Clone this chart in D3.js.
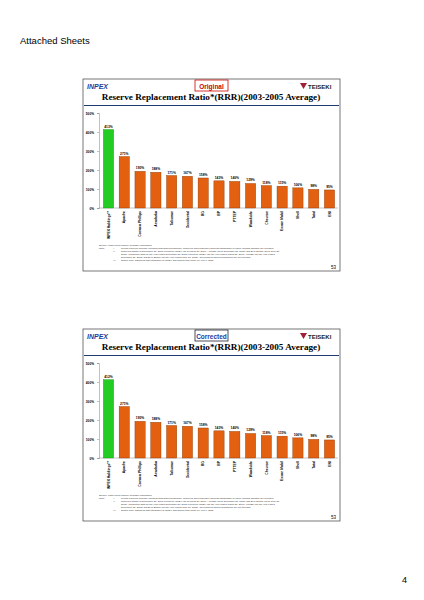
<!DOCTYPE html>
<html><head><meta charset="utf-8">
<script src="https://cdn.jsdelivr.net/npm/d3@7"></script>
<style>body{margin:0;background:#fff}svg{display:block}</style>
</head><body>
<svg id="page" width="424" height="600"></svg>
<script>
const companies = ["INPEX Holdings**", "Apache", "Conoco Phillips", "Anadarko", "Talisman", "Occidental", "BG", "BP", "PTTEP", "Woodside", "Chevron", "Exxon Mobil", "Shell", "Total", "ENI"];
const rrrOriginal = [413, 271, 193, 188, 171, 167, 158, 143, 140, 129, 118, 115, 106, 98, 95];
const rrrCorrected = [412, 271, 193, 188, 171, 167, 158, 143, 140, 129, 118, 115, 106, 98, 95];
const yTicks = [0, 100, 200, 300, 400, 500];
const notes = [
  ["Source:", "", "Most recent publicly available information"],
  ["Note:", "*", "Period reserves increase including acquisition/Production. Reserves and production amounts attributable to equity method affiliates are included"],
  ["", "**", "Reserves shown at December 31, 2005 except for INPEX (as of March 31, 2006 ), PTTEP (as of December 31, 2005) and BHP Billiton (as of June 30,"],
  ["", "", "2005).  Production data for the year ended December 31, 2005 except for INPEX (for the year ended March 31, 2006), PTTEP (for the year ended"],
  ["", "", "December 31, 2005) and BHP Billiton (for the year ended June 30, 2005).  Government-owned companies are not included"],
  ["", "***", "Simple sum, assuming that integration of INPEX and Teiseki took place on April 1, 2005"]
];

const svg = d3.select("#page");
svg.append("text").attr("x", 20).attr("y", 44).attr("font-family", "Liberation Sans, Arial").attr("font-size", 9.5).text("Attached Sheets");
svg.append("text").attr("x", 402).attr("y", 583).attr("font-family", "Liberation Sans, Arial").attr("font-size", 9).text("4");

function slide(dy, tag, values) {
  const g = svg.append("g").attr("transform", `translate(0,${dy})`);
  g.append("rect").attr("x", 83).attr("y", 79).attr("width", 257).attr("height", 192)
    .attr("fill", "#fff").attr("stroke", "#555").attr("stroke-width", 0.8);
  g.append("text").attr("x", 87).attr("y", 89).attr("font-family", "Liberation Sans, Arial")
    .attr("font-size", 7).attr("font-weight", "bold").attr("font-style", "italic").attr("fill", "#1f3c99").text("INPEX");
  const isOrig = tag === "Original";
  g.append("rect").attr("x", 195).attr("y", 80).attr("width", 33).attr("height", 11)
    .attr("fill", "#fff").attr("stroke", isOrig ? "#c00" : "#223").attr("stroke-width", 0.8);
  g.append("text").attr("x", 211.5).attr("y", 88.5).attr("text-anchor", "middle").attr("font-family", "Liberation Sans, Arial")
    .attr("font-size", 6.5).attr("font-weight", "bold").attr("fill", isOrig ? "#c00" : "#1f3c99").text(tag);
  g.append("path").attr("d", "M300,83 L307,83 L303.5,89 Z").attr("fill", "#a0203a");
  g.append("text").attr("x", 308).attr("y", 88.5).attr("font-family", "Liberation Sans, Arial")
    .attr("font-size", 6).attr("font-weight", "bold").attr("fill", "#222").text("TEISEKI");
  g.append("text").attr("x", 211).attr("y", 100).attr("text-anchor", "middle").attr("font-family", "Liberation Serif, Times New Roman")
    .attr("font-size", 9.2).attr("font-weight", "bold").text("Reserve Replacement Ratio*(RRR)(2003-2005 Average)");
  g.append("line").attr("x1", 84).attr("x2", 339).attr("y1", 105.5).attr("y2", 105.5).attr("stroke", "#1f3c70").attr("stroke-width", 1);

  const x = d3.scaleBand().domain(companies).range([101, 337]).paddingInner(0.35).paddingOuter(0.15);
  const y = d3.scaleLinear().domain([0, 500]).range([208, 113]);
  const ax = g.append("g").attr("transform", "translate(99,0)")
    .call(d3.axisLeft(y).tickValues(yTicks).tickFormat(d => d + "%").tickSize(2));
  ax.selectAll("text").attr("font-size", 3.2).attr("font-family", "Liberation Sans, Arial").attr("font-weight", "bold");
  ax.selectAll("line,path").attr("stroke", "#666").attr("stroke-width", 0.4);
  g.append("line").attr("x1", 99).attr("x2", 338).attr("y1", 208).attr("y2", 208).attr("stroke", "#666").attr("stroke-width", 0.4);

  g.selectAll("rect.bar").data(values).join("rect").attr("class", "bar")
    .attr("x", (d, i) => x(companies[i])).attr("width", x.bandwidth())
    .attr("y", d => y(d)).attr("height", d => y(0) - y(d))
    .attr("fill", (d, i) => i === 0 ? "#22cc22" : "#e2600f")
    .attr("stroke", (d, i) => i === 0 ? "#1a8a1a" : "#8a3a08").attr("stroke-width", 0.4);
  g.selectAll("text.val").data(values).join("text").attr("class", "val")
    .attr("x", (d, i) => x(companies[i]) + x.bandwidth() / 2).attr("y", d => y(d) - 2)
    .attr("text-anchor", "middle").attr("font-size", 3.3).attr("font-weight", "bold")
    .attr("font-family", "Liberation Sans, Arial").text(d => d + "%");
  g.selectAll("text.cat").data(companies).join("text").attr("class", "cat")
    .attr("transform", d => `translate(${x(d) + x.bandwidth() / 2 + 1.2},211) rotate(-90)`)
    .attr("text-anchor", "end").attr("font-size", 3.4).attr("font-weight", "bold")
    .attr("font-family", "Liberation Sans, Arial").text(d => d);

  notes.forEach((n, i) => {
    const ty = 246 + i * 2.9 + (i > 0 ? 0.5 : 0);
    g.append("text").attr("x", 99).attr("y", ty).attr("font-size", 2.4).attr("font-family", "Liberation Sans, Arial").attr("fill", "#333").text(n[0]);
    g.append("text").attr("x", 113).attr("y", ty).attr("font-size", 2.4).attr("font-family", "Liberation Sans, Arial").attr("fill", "#333").text(n[1]);
    g.append("text").attr("x", n[0] === "Source:" ? 108 : 121).attr("y", ty).attr("font-size", 2.4).attr("font-family", "Liberation Sans, Arial").attr("fill", "#333").text(n[2]);
  });
  g.append("text").attr("x", 336).attr("y", 269).attr("text-anchor", "end").attr("font-size", 4.5)
    .attr("font-family", "Liberation Sans, Arial").text("53");
}
slide(0, "Original", rrrOriginal);
slide(250, "Corrected", rrrCorrected);
</script>
</body></html>
